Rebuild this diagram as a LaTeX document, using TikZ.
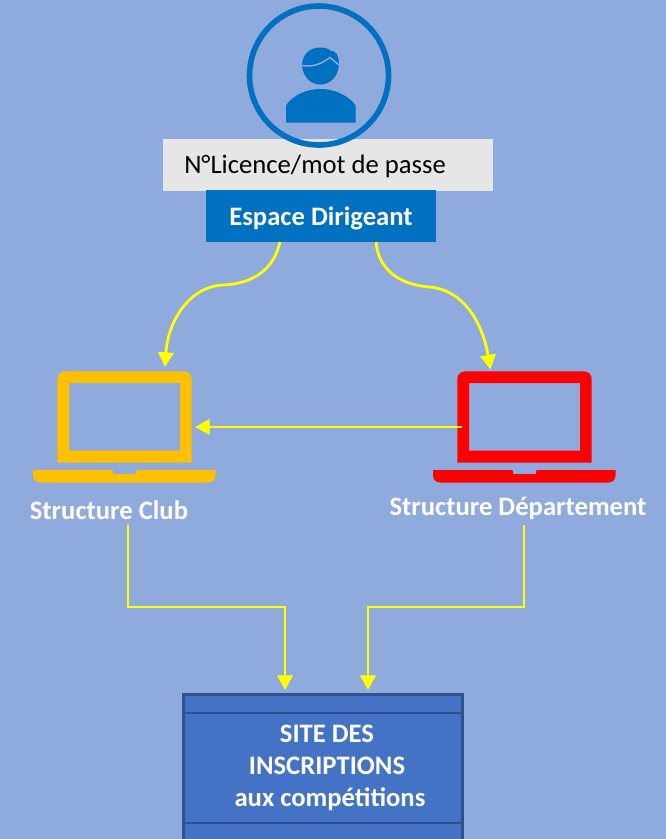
\documentclass[tikz,border=0pt]{standalone}
\usepackage{fontspec}
\setmainfont{Carlito}
\usetikzlibrary{arrows.meta}
\definecolor{bgblue}{HTML}{8FAADC}
\definecolor{msblue}{HTML}{0070C0}
\definecolor{boxgray}{HTML}{E7E6E6}
\definecolor{sitefill}{HTML}{4472C4}
\definecolor{siteline}{HTML}{2F528F}
\definecolor{clubcol}{HTML}{FFC000}
\definecolor{linkcol}{HTML}{FFFF00}
\tikzset{
  link/.style={draw=linkcol,line width=2.1pt,-{Triangle[length=11pt,width=11.5pt]}},
  whitelabel/.style={text=white,font=\fontsize{20}{24}\selectfont\bfseries,inner sep=0pt},
  anchorbox/.style={minimum width=134.4*0.75pt,minimum height=91.4*0.75pt,inner sep=0pt},
}
\newcommand{\laptop}[2]{%
  \begin{scope}[xshift=#1*0.75pt]
    \fill[#2,even odd rule]
      (57.3,379.3) .. controls (57.3,374.5) and (60.5,371.3) .. (65.3,371.3) -- (183.7,371.3)
      .. controls (188.5,371.3) and (191.7,374.5) .. (191.7,379.3) -- (191.7,462.7) -- (57.3,462.7) -- cycle
      (69,383) rectangle (180,450.5);
    \fill[#2] (33,470) -- (112.5,470) -- (113,473) -- (114,474) -- (135.5,474) -- (136,473) -- (136.5,470)
      -- (215.5,470) -- (215.5,475.5) .. controls (215.5,479.5) and (212.5,482.5) .. (208.5,482.5) -- (40,482.5)
      .. controls (36,482.5) and (33,479.5) .. (33,475.5) -- cycle;
  \end{scope}}
\begin{document}
\begin{tikzpicture}[x=0.75pt,y=-0.75pt]
  \useasboundingbox (0,0) rectangle (666,839);
  \fill[bgblue] (0,0) rectangle (666,839);

  % grey login box
  \node[fill=boxgray,minimum width=330*0.75pt,minimum height=52*0.75pt,inner sep=0pt] (login) at (328,165) {};
  \node[anchor=west,inner sep=0pt,text=black,font=\fontsize{20}{24}\selectfont] (logintext) at (184,166) {N°Licence/mot de passe};

  % user icon
  \node[draw=msblue,line width=4.2pt,circle,minimum size=139*0.75pt,inner sep=0pt] (user) at (319,75.5) {};
  \fill[msblue] (286,122.7) -- (286,106) .. controls (288,100) and (302,89) .. (320.5,89)
     .. controls (339,89) and (353,100) .. (355.7,106) -- (355.7,122.7) -- cycle;
  \fill[msblue] (302,66) .. controls (302,54) and (310,47.5) .. (320,47.5)
     .. controls (325,47.5) and (329,49) .. (331,51)
     .. controls (335,50.5) and (339,54) .. (339,65)
     .. controls (338,76) and (331,84.5) .. (320,84.5)
     .. controls (310,84.5) and (303,76) .. (302,66) -- cycle;
  \draw[bgblue,line width=1.1pt] (302,65.5) .. controls (312,67) and (320,65) .. (330,57.5)
     -- (339,65);

  % espace dirigeant
  \node[fill=msblue,minimum width=230*0.75pt,minimum height=52*0.75pt,inner sep=0pt] (espace) at (321,216) {};
  \node[inner sep=0pt,text=white,font=\fontsize{20}{24}\selectfont\bfseries] (espacetext) at (321,218) {Espace Dirigeant};

  % laptops
  \laptop{0}{clubcol}
  \laptop{400}{red}
  \node[anchorbox] (club) at (124.5,417) {};
  \node[anchorbox] (dept) at (524.5,417) {};

  % labels
  \node[whitelabel] (clublabel) at (109,510) {Structure Club};
  \node[whitelabel] (deptlabel) at (518,508.5) {Structure Département};

  % site
  \fill[sitefill] (183.5,694.5) rectangle (462.5,839);
  \draw[siteline,line width=2pt] (183.5,839) -- (183.5,694.5) -- (462.5,694.5) -- (462.5,839);
  \draw[siteline,line width=2pt] (183.5,713) -- (462.5,713) (183.5,823) -- (462.5,823);
  \node[inner sep=0pt,text=white,align=center,font=\fontsize{20}{24}\selectfont\bfseries] (site) at (327,767.5)
     {SITE DES\\INSCRIPTIONS\\\hspace*{4.5pt}aux compétitions};
  \coordinate (sitea) at (285,690);
  \coordinate (siteb) at (368,690);

  % connectors
  \coordinate (esa) at (280,242);
  \coordinate (esb) at (376,242);
  \coordinate (cin) at (165,367);
  \coordinate (din) at (490.5,369.5);
  \coordinate (clubout) at (128,525);
  \coordinate (deptout) at (524,525);
  \coordinate (deptleft) at (462,427);
  \coordinate (clubright) at (195,427);
  \draw[link] (esa) .. controls (274,268) and (255,284) .. (222,285)
      .. controls (190,287) and (168,320) .. (cin);
  \draw[link] (esb) .. controls (378,268) and (398,285) .. (430,287)
      .. controls (462,290) and (482,320) .. (din);
  \draw[link] (deptleft) -- (clubright);
  \draw[link] (clubout) |- (285,607) -- (sitea);
  \draw[link] (deptout) |- (368,607) -- (siteb);
\end{tikzpicture}
\end{document}
